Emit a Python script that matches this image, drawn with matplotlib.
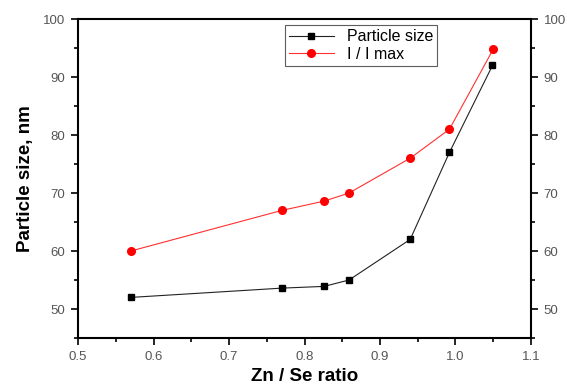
import matplotlib
matplotlib.use('Agg')
import matplotlib.pyplot as plt
from matplotlib.ticker import MultipleLocator

plt.rcParams['font.family'] = ['Liberation Sans', 'DejaVu Sans']

ratio = [0.57, 0.77, 0.826, 0.859, 0.94, 0.992, 1.049]
particle_size = [52.0, 53.6, 53.9, 55.0, 62.0, 77.0, 92.0]
ratio_i = [0.57, 0.77, 0.826, 0.859, 0.94, 0.992, 1.05]
i_imax = [60.0, 67.0, 68.6, 70.0, 76.0, 81.0, 94.8]

fig = plt.figure(figsize=(5.67, 3.87), dpi=100)
ax = fig.add_axes([0.1376, 0.1266, 0.7989, 0.8243])

ax.plot(ratio, particle_size, color='#222222', lw=0.8, marker='s', ms=5,
        mfc='black', mec='black', label='Particle size')
ax.plot(ratio_i, i_imax, color='#ff3030', lw=0.8, marker='o', ms=5.5,
        mfc='red', mec='red', label='I / I max')

ax.set_xlim(0.5, 1.1)
ax.set_ylim(45, 100)
ax.xaxis.set_minor_locator(MultipleLocator(0.05))
ax.yaxis.set_minor_locator(MultipleLocator(5))
ax.set_yticks([50, 60, 70, 80, 90, 100])
ax.set_xticks([0.5, 0.6, 0.7, 0.8, 0.9, 1.0, 1.1])
ax.set_xticklabels(['0.5', '0.6', '0.7', '0.8', '0.9', '1.0', '1.1'])

ax.tick_params(which='both', direction='out', labelsize=9.5, labelcolor='#555555',
               right=True, labelright=True, width=1.2, pad=4)
ax.tick_params(which='major', length=5)
ax.tick_params(which='minor', length=3)
for s in ax.spines.values():
    s.set_linewidth(1.5)

ax.set_xlabel('Zn / Se ratio', fontsize=13.5, fontweight='bold', labelpad=4)
ax.set_ylabel('Particle size, nm', fontsize=13.5, fontweight='bold', labelpad=7)

leg = ax.legend(loc='upper left', bbox_to_anchor=(0.45, 0.99), fontsize=11.5,
                frameon=True, fancybox=False, edgecolor='#333333',
                borderpad=0.25, handlelength=2.8, labelspacing=0.15,
                borderaxespad=0.2)
leg.get_frame().set_linewidth(0.8)

fig.savefig('out.png', dpi=100)
